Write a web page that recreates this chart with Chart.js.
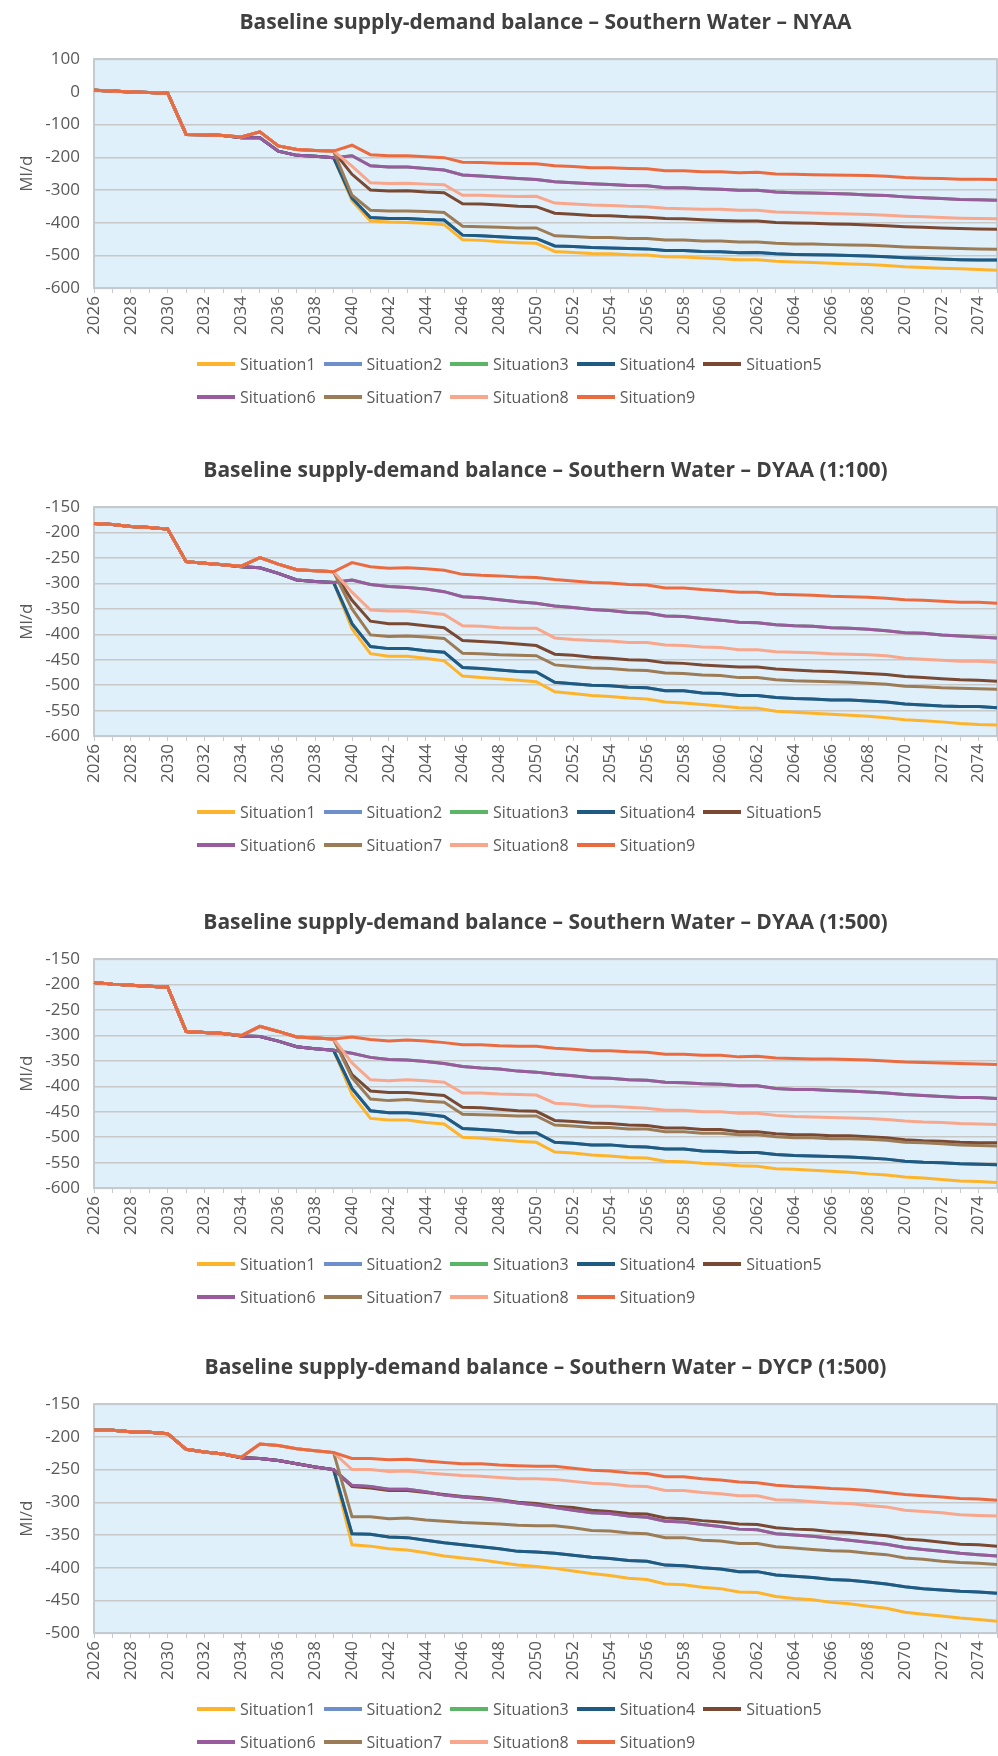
<!DOCTYPE html>
<html>
<head>
<meta charset="utf-8">
<title>Baseline supply-demand balance – Southern Water</title>
<script src="https://cdn.jsdelivr.net/npm/chart.js@4.4.1/dist/chart.umd.min.js"></script>
<style>
    body { margin: 0; background: #fff; font-family: 'Open Sans', sans-serif; }
    .bloque { position: absolute; left: 0; width: 998px; height: 430px; }
    .bloque canvas { position: absolute; left: 0; top: 0; }
    .leyenda { position: absolute; left: 197px; top: 347px; width: 660px; display: flex; flex-wrap: wrap; }
    .item { display: flex; align-items: center; height: 33px; margin-right: 8px; font-size: 16px; color: #595959; }
    .item .linea { display: inline-block; width: 38px; height: 4px; margin-right: 5px; }
</style>
</head>
<body>
<div class="bloque" style="top:0px"><canvas id="graficoNYAA" width="998" height="350"></canvas><div class="leyenda" id="leyendaNYAA"></div></div>
<div class="bloque" style="top:448px"><canvas id="graficoDYAA100" width="998" height="350"></canvas><div class="leyenda" id="leyendaDYAA100"></div></div>
<div class="bloque" style="top:900px"><canvas id="graficoDYAA500" width="998" height="350"></canvas><div class="leyenda" id="leyendaDYAA500"></div></div>
<div class="bloque" style="top:1345px"><canvas id="graficoDYCP500" width="998" height="350"></canvas><div class="leyenda" id="leyendaDYCP500"></div></div>
<script>
var anios = [2026, 2027, 2028, 2029, 2030, 2031, 2032, 2033, 2034, 2035, 2036, 2037, 2038, 2039, 2040, 2041, 2042, 2043, 2044, 2045,
             2046, 2047, 2048, 2049, 2050, 2051, 2052, 2053, 2054, 2055, 2056, 2057, 2058, 2059, 2060, 2061, 2062, 2063, 2064, 2065,
             2066, 2067, 2068, 2069, 2070, 2071, 2072, 2073, 2074, 2075];

var situaciones = ['Situation1', 'Situation2', 'Situation3', 'Situation4', 'Situation5', 'Situation6', 'Situation7', 'Situation8', 'Situation9'];
var colores = ['#fdb42c', '#6d8fcc', '#5cb566', '#1f5a80', '#7a4934', '#995a9e', '#9c7c57', '#f8a68c', '#ea6b40'];

// NYAA
var nyaaS1 = [5, 3, 0, -2, -4, -130, -131, -133, -140, -140, -181, -194, -197, -201,
    -333, -395, -398, -399, -402, -406, -452, -454, -458, -461, -463, -488, -491, -494, -495, -498, -499,
    -504, -505, -508, -510, -513, -513, -518, -520, -522, -524, -526, -528, -531, -535, -537, -539, -541, -543, -545];
var nyaaS4 = [5, 3, 0, -2, -4, -130, -131, -133, -140, -140, -181, -194, -197, -201,
    -325, -384, -387, -387, -390, -392, -438, -440, -443, -446, -448, -471, -473, -476, -477, -479, -480,
    -485, -485, -488, -489, -492, -491, -495, -497, -498, -499, -500, -502, -504, -507, -509, -511, -513, -514, -514];
var nyaaS5 = [5, 3, 0, -2, -4, -130, -131, -133, -138, -122, -165, -176, -179, -181,
    -252, -300, -303, -302, -306, -308, -342, -343, -346, -350, -351, -371, -374, -378, -379, -382, -383,
    -387, -388, -391, -393, -395, -395, -399, -401, -402, -404, -405, -407, -409, -412, -414, -416, -418, -419, -420];
var nyaaS6 = [5, 3, 0, -2, -4, -130, -131, -133, -140, -140, -181, -194, -197, -201,
    -195, -226, -230, -230, -234, -239, -254, -257, -261, -265, -268, -275, -278, -281, -283, -286, -287,
    -293, -293, -296, -298, -301, -301, -306, -308, -309, -311, -312, -315, -317, -321, -324, -326, -329, -330, -331];
var nyaaS7 = [5, 3, 0, -2, -4, -130, -131, -133, -138, -122, -165, -176, -179, -181,
    -316, -362, -364, -364, -366, -369, -411, -412, -414, -416, -416, -440, -442, -445, -445, -448, -448,
    -453, -453, -456, -456, -459, -459, -463, -465, -465, -467, -468, -469, -471, -474, -476, -477, -479, -480, -481];
var nyaaS8 = [5, 3, 0, -2, -4, -130, -131, -133, -138, -122, -165, -176, -179, -181,
    -227, -278, -280, -279, -282, -284, -316, -316, -318, -320, -319, -340, -343, -346, -347, -350, -351,
    -356, -357, -359, -359, -362, -362, -367, -369, -370, -372, -373, -375, -377, -380, -382, -384, -386, -387, -388];
var nyaaS9 = [5, 3, 0, -2, -4, -130, -131, -133, -138, -122, -165, -176, -179, -181,
    -163, -192, -195, -195, -198, -201, -215, -216, -218, -219, -220, -226, -228, -232, -232, -234, -235,
    -241, -241, -244, -244, -247, -246, -251, -252, -253, -254, -255, -256, -258, -262, -264, -265, -267, -267, -268];
// Situation2 y Situation3 coinciden con Situation4 y Situation6
var nyaaS2 = nyaaS4;
var nyaaS3 = nyaaS6;

// DYAA (1:100)
var dyaa100S1 = [-182, -184, -188, -190, -193, -257, -260, -263, -267, -269, -280, -293, -296, -298,
    -389, -438, -443, -443, -447, -452, -482, -485, -487, -490, -493, -513, -516, -520, -522, -525, -527,
    -533, -535, -538, -541, -544, -545, -551, -553, -555, -557, -559, -561, -564, -568, -570, -572, -575, -577, -578];
var dyaa100S4 = [-182, -184, -188, -190, -193, -257, -260, -263, -267, -269, -280, -293, -296, -298,
    -379, -424, -428, -428, -432, -435, -465, -467, -470, -473, -474, -494, -497, -500, -501, -504, -505,
    -511, -511, -515, -516, -520, -520, -524, -526, -527, -529, -529, -531, -533, -537, -539, -541, -542, -542, -544];
var dyaa100S5 = [-182, -184, -188, -190, -193, -257, -260, -263, -266, -249, -262, -273, -275, -277,
    -333, -374, -379, -379, -383, -387, -412, -414, -416, -419, -422, -439, -441, -445, -447, -450, -451,
    -456, -457, -460, -462, -464, -464, -468, -470, -472, -473, -475, -477, -479, -483, -485, -487, -489, -490, -492];
var dyaa100S6 = [-182, -184, -188, -190, -193, -257, -260, -263, -267, -269, -280, -293, -296, -298,
    -293, -302, -306, -308, -311, -316, -326, -328, -332, -336, -339, -344, -347, -351, -353, -357, -358,
    -364, -365, -369, -372, -376, -377, -381, -383, -384, -387, -388, -390, -393, -397, -398, -401, -403, -405, -407];
var dyaa100S7 = [-182, -184, -188, -190, -193, -257, -260, -263, -266, -249, -262, -273, -275, -277,
    -350, -401, -404, -403, -405, -408, -437, -438, -440, -441, -442, -460, -463, -466, -467, -470, -471,
    -476, -477, -480, -481, -485, -485, -489, -491, -492, -493, -494, -496, -498, -502, -503, -505, -506, -507, -508];
var dyaa100S8 = [-182, -184, -188, -190, -193, -257, -260, -263, -266, -249, -262, -273, -275, -277,
    -317, -352, -354, -354, -357, -361, -383, -384, -387, -388, -388, -407, -410, -412, -413, -416, -416,
    -421, -422, -425, -426, -430, -430, -434, -435, -436, -438, -439, -440, -442, -447, -449, -451, -453, -453, -455];
var dyaa100S9 = [-182, -184, -188, -190, -193, -257, -260, -263, -266, -249, -262, -273, -275, -277,
    -259, -267, -270, -269, -271, -274, -282, -284, -285, -287, -288, -292, -295, -298, -299, -302, -303,
    -309, -309, -312, -314, -317, -317, -321, -322, -323, -325, -326, -327, -329, -332, -333, -335, -337, -337, -339];
var dyaa100S2 = dyaa100S4;
var dyaa100S3 = dyaa100S6;

// DYAA (1:500)
var dyaa500S1 = [-196, -199, -201, -203, -205, -292, -294, -296, -301, -302, -311, -322, -326, -329,
    -416, -463, -466, -466, -471, -474, -500, -502, -505, -508, -510, -529, -531, -535, -537, -540, -541,
    -547, -548, -551, -553, -556, -557, -562, -563, -565, -567, -569, -572, -574, -578, -580, -583, -586, -587, -589];
var dyaa500S4 = [-196, -199, -201, -203, -205, -292, -294, -296, -301, -302, -311, -322, -326, -329,
    -404, -448, -452, -452, -455, -459, -483, -485, -487, -491, -491, -510, -512, -515, -515, -518, -519,
    -523, -523, -527, -528, -530, -530, -534, -536, -537, -538, -539, -541, -543, -547, -549, -550, -552, -553, -554];
var dyaa500S5 = [-196, -199, -201, -203, -205, -292, -294, -296, -300, -282, -292, -303, -305, -307,
    -377, -409, -412, -412, -415, -418, -441, -442, -445, -448, -449, -467, -469, -472, -473, -476, -477,
    -482, -482, -485, -485, -489, -489, -493, -495, -495, -497, -497, -499, -501, -505, -507, -508, -510, -511, -511];
var dyaa500S6 = [-196, -199, -201, -203, -205, -292, -294, -296, -301, -302, -311, -322, -326, -329,
    -335, -343, -347, -348, -351, -355, -361, -364, -366, -370, -372, -376, -379, -383, -384, -387, -388,
    -392, -393, -395, -396, -399, -399, -404, -406, -406, -408, -409, -411, -413, -416, -418, -420, -422, -422, -424];
var dyaa500S7 = [-196, -199, -201, -203, -205, -292, -294, -296, -300, -282, -292, -303, -305, -307,
    -383, -425, -428, -426, -429, -431, -455, -456, -457, -458, -458, -476, -478, -481, -481, -484, -484,
    -489, -489, -492, -492, -495, -495, -499, -501, -501, -503, -503, -504, -506, -510, -511, -513, -515, -516, -517];
var dyaa500S8 = [-196, -199, -201, -203, -205, -292, -294, -296, -300, -282, -292, -303, -305, -307,
    -354, -387, -389, -387, -389, -392, -413, -413, -415, -416, -417, -433, -435, -439, -439, -441, -443,
    -447, -447, -450, -450, -453, -453, -457, -459, -460, -461, -462, -463, -465, -468, -470, -471, -473, -474, -475];
var dyaa500S9 = [-196, -199, -201, -203, -205, -292, -294, -296, -300, -282, -292, -303, -305, -307,
    -303, -308, -311, -309, -311, -314, -318, -318, -320, -321, -321, -325, -327, -330, -330, -332, -333,
    -337, -337, -339, -339, -342, -341, -344, -345, -346, -346, -347, -348, -350, -352, -353, -354, -355, -356, -357];
var dyaa500S2 = dyaa500S4;
var dyaa500S3 = dyaa500S6;

// DYCP (1:500)
var dycpS1 = [-190, -190, -192, -193, -195, -219, -223, -226, -232, -233, -236, -241, -246, -250,
    -365, -367, -371, -373, -377, -382, -385, -388, -392, -396, -398, -401, -405, -409, -412, -416, -418,
    -425, -426, -430, -432, -437, -438, -444, -447, -449, -453, -455, -459, -462, -468, -471, -474, -477, -479, -482];
var dycpS4 = [-190, -190, -192, -193, -195, -219, -223, -226, -232, -233, -236, -241, -246, -250,
    -348, -349, -353, -354, -358, -362, -365, -368, -371, -375, -376, -378, -381, -384, -386, -389, -390,
    -396, -397, -400, -402, -406, -406, -411, -413, -415, -418, -419, -422, -425, -429, -432, -434, -436, -437, -439];
var dycpS5 = [-190, -190, -192, -193, -195, -219, -223, -226, -232, -233, -236, -241, -246, -250,
    -276, -278, -282, -282, -285, -288, -291, -293, -296, -300, -302, -306, -308, -312, -314, -317, -318,
    -324, -325, -328, -330, -333, -334, -339, -341, -342, -345, -346, -349, -351, -356, -358, -361, -364, -365, -367];
var dycpS6 = [-190, -190, -192, -193, -195, -219, -223, -226, -232, -233, -236, -241, -246, -250,
    -274, -276, -280, -280, -284, -289, -292, -294, -297, -301, -304, -308, -312, -316, -317, -321, -323,
    -329, -330, -334, -337, -341, -342, -348, -350, -352, -355, -358, -361, -364, -369, -372, -375, -378, -380, -382];
var dycpS7 = [-190, -190, -192, -193, -195, -219, -223, -226, -231, -211, -213, -218, -221, -224,
    -322, -322, -325, -324, -327, -329, -331, -332, -333, -335, -336, -336, -339, -343, -344, -347, -348,
    -354, -354, -358, -359, -363, -363, -368, -370, -372, -374, -375, -378, -380, -385, -387, -390, -392, -393, -395];
var dycpS8 = [-190, -190, -192, -193, -195, -219, -223, -226, -231, -211, -213, -218, -221, -224,
    -250, -250, -253, -252, -255, -257, -259, -260, -262, -264, -264, -265, -268, -271, -272, -275, -276,
    -282, -282, -285, -287, -290, -290, -296, -297, -299, -301, -302, -305, -307, -312, -314, -316, -319, -320, -321];
var dycpS9 = [-190, -190, -192, -193, -195, -219, -223, -226, -231, -211, -213, -218, -221, -224,
    -233, -233, -235, -234, -237, -239, -241, -241, -243, -244, -245, -245, -248, -251, -252, -255, -256,
    -261, -261, -264, -266, -269, -270, -274, -276, -277, -279, -280, -282, -285, -288, -290, -292, -294, -295, -297];
var dycpS2 = dycpS4;
var dycpS3 = dycpS6;

Chart.defaults.font.family = "'Open Sans', sans-serif";
Chart.defaults.color = '#595959';

// fondo celeste y borde gris del area de trazado
var fondoPlot = {
    id: 'fondoPlot',
    beforeDraw: function (chart) {
        var a = chart.chartArea, c = chart.ctx;
        c.save();
        c.fillStyle = '#dff0fa';
        c.fillRect(a.left, a.top, a.right - a.left, a.bottom - a.top);
        c.restore();
    },
    beforeDatasetsDraw: function (chart) {
        var a = chart.chartArea, c = chart.ctx;
        c.save();
        c.strokeStyle = '#c5cacf';
        c.lineWidth = 2;
        c.strokeRect(a.left, a.top, a.right - a.left, a.bottom - a.top);
        c.restore();
    }
};

function crearGrafico(idCanvas, idLeyenda, titulo, series, yMin, yMax, paso) {
    var datasets = [];
    for (var i = 0; i < series.length; i++) {
        datasets.push({
            label: situaciones[i],
            data: series[i],
            borderColor: colores[i],
            backgroundColor: colores[i],
            borderWidth: 3,
            pointRadius: 0,
            tension: 0,
            fill: false,
            order: series.length - i // la ultima situacion queda encima
        });
    }

    var ctx = document.getElementById(idCanvas).getContext("2d");
    var grafico = new Chart(ctx, {
        type: 'line',
        data: { labels: anios, datasets: datasets },
        options: {
            responsive: false,
            animation: false,
            layout: { padding: { left: 14, right: 1, top: 0, bottom: 12 } },
            plugins: {
                legend: { display: false },
                tooltip: { enabled: false },
                title: {
                    display: true,
                    text: titulo,
                    fullSize: false,
                    color: '#404040',
                    font: { size: 21, weight: 'bold' },
                    padding: { top: 10, bottom: 24 }
                }
            },
            scales: {
                x: {
                    offset: false,
                    grid: { drawOnChartArea: false, tickLength: 5, color: '#c5cacf' },
                    border: { color: '#c5cacf', width: 2 },
                    ticks: {
                        autoSkip: false,
                        minRotation: 90,
                        maxRotation: 90,
                        padding: 3,
                        font: { size: 17 },
                        callback: function (valor, indice) {
                            return indice % 2 === 0 ? this.getLabelForValue(valor) : '';
                        }
                    },
                    afterFit: function (eje) { eje.paddingLeft = 0; eje.paddingRight = 0; }
                },
                y: {
                    min: yMin,
                    max: yMax,
                    ticks: { stepSize: paso, padding: 14, font: { size: 17 } },
                    grid: { color: '#c8c8c8', lineWidth: 1.5, drawTicks: false },
                    border: { display: false },
                    title: { display: true, text: 'Ml/d', font: { size: 17 }, padding: { top: 3, bottom: 9 } },
                    afterFit: function (eje) { eje.width = 80; }
                }
            }
        },
        plugins: [fondoPlot]
    });

    // leyenda en dos filas bajo el grafico
    var caja = document.getElementById(idLeyenda);
    grafico.data.datasets.forEach(function (ds) {
        var item = document.createElement('div');
        item.className = 'item';
        item.innerHTML = '<span class="linea" style="background:' + ds.borderColor + '"></span>' + ds.label;
        caja.appendChild(item);
    });
    return grafico;
}

document.addEventListener("DOMContentLoaded", function () {
    crearGrafico('graficoNYAA', 'leyendaNYAA', 'Baseline supply-demand balance – Southern Water – NYAA',
        [nyaaS1, nyaaS2, nyaaS3, nyaaS4, nyaaS5, nyaaS6, nyaaS7, nyaaS8, nyaaS9], -600, 100, 100);

    crearGrafico('graficoDYAA100', 'leyendaDYAA100', 'Baseline supply-demand balance – Southern Water – DYAA (1:100)',
        [dyaa100S1, dyaa100S2, dyaa100S3, dyaa100S4, dyaa100S5, dyaa100S6, dyaa100S7, dyaa100S8, dyaa100S9], -600, -150, 50);

    crearGrafico('graficoDYAA500', 'leyendaDYAA500', 'Baseline supply-demand balance – Southern Water – DYAA (1:500)',
        [dyaa500S1, dyaa500S2, dyaa500S3, dyaa500S4, dyaa500S5, dyaa500S6, dyaa500S7, dyaa500S8, dyaa500S9], -600, -150, 50);

    crearGrafico('graficoDYCP500', 'leyendaDYCP500', 'Baseline supply-demand balance – Southern Water – DYCP (1:500)',
        [dycpS1, dycpS2, dycpS3, dycpS4, dycpS5, dycpS6, dycpS7, dycpS8, dycpS9], -500, -150, 50);
});
</script>
</body>
</html>
